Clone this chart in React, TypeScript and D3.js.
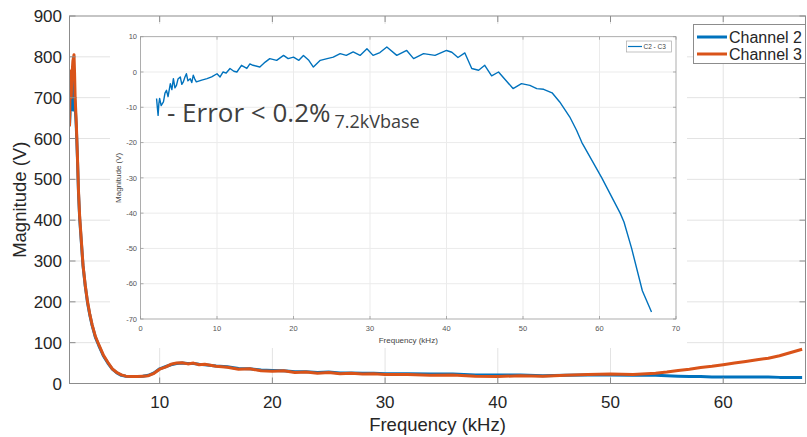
import * as d3 from 'd3';
import { useEffect, useRef } from 'react';

const W = 807;
const H = 437;

// main chart: magnitude of both channels vs frequency (kHz)
const freq = [
  2.0, 2.05, 2.1, 2.15, 2.2, 2.3, 2.4, 2.45, 2.5, 2.6,
  2.7, 2.8, 2.9, 3.0, 3.2, 3.4, 3.6, 3.8, 4.0, 4.3,
  4.6, 5.0, 5.4, 5.8, 6.2, 6.6, 7.0, 7.5, 8.0, 8.5,
  9.0, 9.5, 10, 10.5, 11, 11.5, 12, 12.5, 13, 13.5,
  14, 15, 16, 17, 18, 19, 20, 21, 22, 23,
  24, 25, 26, 27, 28, 29, 30, 32, 34, 36,
  38, 40, 42, 44, 46, 48, 50, 52, 54, 55,
  56, 57, 58, 59, 60, 61, 62, 63, 64, 65,
  66, 67,
];
const channel2 = [
  630, 660, 700, 720, 690, 670, 740, 700, 680, 630,
  555, 465, 405, 365, 288, 238, 198, 168, 143, 113,
  93, 68, 50, 35, 26, 20, 18, 17, 17, 18,
  20, 26, 36, 41, 46, 49, 50, 49, 49, 47,
  46, 43, 41, 37, 36, 33, 32, 31, 29, 29,
  27, 28, 26, 26, 25, 25, 24, 24, 23, 23,
  21, 21, 21, 19, 20, 21, 21, 20, 20, 19,
  18, 17, 17, 16, 16, 16, 16, 16, 16, 15,
  15, 15,
];
const channel3 = [
  630, 720, 765, 700, 745, 790, 805, 760, 700, 640,
  560, 470, 410, 370, 290, 240, 200, 170, 145, 115,
  95, 70, 52, 36, 27, 21, 18, 17, 17, 18,
  19, 25, 35, 40, 47, 50, 51, 48, 50, 46,
  47, 42, 40, 35, 36, 31, 30, 31, 27, 28,
  25, 27, 24, 25, 23, 24, 22, 22, 20, 21,
  18, 17, 19, 18, 20, 22, 23, 22, 25, 28,
  32, 35, 39, 42, 46, 50, 54, 58, 62, 68,
  76, 84,
];
const xTicks = [10, 20, 30, 40, 50, 60];
const yTicks = [0, 100, 200, 300, 400, 500, 600, 700, 800, 900];
const seriesNames = ['Channel 2', 'Channel 3'];

// inset: difference C2 - C3
const insetFreq = [
  2.1, 2.2, 2.3, 2.4, 2.5, 2.7, 3.0, 3.2, 3.4, 3.6,
  3.9, 4.1, 4.3, 4.5, 4.7, 4.9, 5.2, 5.4, 5.6, 5.8,
  6.0, 6.2, 6.5, 6.7, 6.9, 7.1, 7.3, 8.0, 8.7, 9.3,
  10.0, 10.4, 10.8, 11.2, 11.7, 12.2, 12.6, 13.2, 13.9, 14.3,
  14.7, 15.6, 16.3, 16.9, 17.8, 18.7, 19.3, 20.0, 20.7, 21.3,
  22.0, 22.6, 23.5, 24.4, 25.2, 26.1, 26.9, 27.8, 28.7, 29.6,
  30.4, 31.3, 32.2, 33.5, 34.8, 35.7, 37.0, 38.5, 40.0, 40.7,
  41.5, 42.4, 43.3, 44.2, 45.0, 45.9, 46.8, 48.7, 49.8, 50.9,
  51.8, 52.7, 53.8, 54.8, 56.1, 57.0, 57.7, 60.3, 62.7, 63.2,
  64.2, 65.6, 66.8,
];
const insetDiff = [
  -7.5, -10, -12.3, -9, -7.5, -9.5, -8.5, -6, -5.2, -7,
  -3.3, -5, -1.9, -4.5, -3.8, -2, -1.4, -3.5, -2.8, -1.5,
  -0.5, -2.5, -1.9, -3, -0.9, -2, -2.8, -2.3, -1.9, -1.4,
  -0.5, -1.4, 0, -0.3, 1, 0.2, 0, 1.9, 1, 2.3,
  1.9, 1.4, 2.8, 3.8, 3.3, 4.7, 3.8, 4.2, 3.3, 4.7,
  3.3, 1.4, 3.3, 3.8, 4.2, 5.2, 4.7, 5.7, 4.7, 6.6,
  4.7, 5.5, 7.1, 4.7, 6.1, 3.8, 5.2, 4.7, 6.1, 5.6,
  4.1, 5.4, 1.0, 0.5, 1.9, -1.1, 0, -4.7, -3.3, -3.8,
  -4.7, -4.9, -5.9, -8.5, -12.7, -16.5, -20, -30, -40, -42.5,
  -50, -62, -68,
];
const insetXTicks = [0, 10, 20, 30, 40, 50, 60, 70];
const insetYTicks = [-70, -60, -50, -40, -30, -20, -10, 0, 10];

const BLUE = '#0072BD';
const ORANGE = '#D95319';

function App() {
  const ref = useRef<SVGSVGElement>(null);

  useEffect(() => {
    const svg = d3.select(ref.current);
    svg.selectAll('*').remove();

    // ---- main axes
    const x = d3.scaleLinear().domain([2, 67.3]).range([69.5, 805.5]);
    const y = d3.scaleLinear().domain([0, 900]).range([383.5, 16]);
    const [x0, x1] = x.range();
    const [y0, y1] = y.range();

    const main = svg.append('g');

    main.append('defs').append('clipPath').attr('id', 'mainclip')
      .append('rect').attr('x', x0).attr('y', y1).attr('width', x1 - x0).attr('height', y0 - y1);

    main.selectAll('.vgrid').data(xTicks).join('line')
      .attr('x1', d => x(d)).attr('x2', d => x(d)).attr('y1', y0).attr('y2', y1)
      .attr('stroke', '#e3e3e3');
    main.selectAll('.hgrid').data(yTicks.slice(1, -1)).join('line')
      .attr('x1', x0).attr('x2', x1).attr('y1', d => y(d)).attr('y2', d => y(d))
      .attr('stroke', '#e3e3e3');

    const line = d3.line<number>()
      .x((_, i) => x(freq[i]))
      .y(d => y(d));

    main.append('path').datum(channel2)
      .attr('d', line).attr('fill', 'none').attr('stroke', BLUE)
      .attr('stroke-width', 3).attr('stroke-linejoin', 'round')
      .attr('clip-path', 'url(#mainclip)');
    main.append('path').datum(channel3)
      .attr('d', line).attr('fill', 'none').attr('stroke', ORANGE)
      .attr('stroke-width', 3).attr('stroke-linejoin', 'round')
      .attr('clip-path', 'url(#mainclip)');

    main.append('rect')
      .attr('x', x0).attr('y', y1).attr('width', x1 - x0).attr('height', y0 - y1)
      .attr('fill', 'none').attr('stroke', '#8c8c8c').attr('stroke-width', 1);

    // ticks inside the box
    main.selectAll('.xt').data(xTicks).join('path')
      .attr('d', d => `M${x(d)},${y0}v-6M${x(d)},${y1}v6`)
      .attr('stroke', '#8c8c8c');
    main.selectAll('.yt').data(yTicks).join('path')
      .attr('d', d => `M${x0},${y(d)}h6M${x1},${y(d)}h-6`)
      .attr('stroke', '#8c8c8c');

    main.selectAll('.xl').data(xTicks).join('text')
      .attr('x', d => x(d)).attr('y', 408)
      .attr('text-anchor', 'middle')
      .attr('font-family', 'Liberation Sans, Arial, sans-serif')
      .attr('font-size', 17).attr('fill', '#262626')
      .text(d => d);
    main.selectAll('.yl').data(yTicks).join('text')
      .attr('x', 62).attr('y', d => y(d)).attr('dy', '0.36em')
      .attr('text-anchor', 'end')
      .attr('font-family', 'Liberation Sans, Arial, sans-serif')
      .attr('font-size', 17).attr('fill', '#262626')
      .text(d => d);

    main.append('text')
      .attr('x', (x0 + x1) / 2).attr('y', 431)
      .attr('text-anchor', 'middle')
      .attr('font-family', 'Liberation Sans, Arial, sans-serif')
      .attr('font-size', 18.5).attr('fill', '#262626')
      .text('Frequency (kHz)');
    main.append('text')
      .attr('transform', `translate(26,${(y0 + y1) / 2}) rotate(-90)`)
      .attr('text-anchor', 'middle')
      .attr('font-family', 'Liberation Sans, Arial, sans-serif')
      .attr('font-size', 18.5).attr('fill', '#262626')
      .text('Magnitude (V)');

    // ---- legend
    const leg = svg.append('g');
    leg.append('rect')
      .attr('x', 693.5).attr('y', 24.5).attr('width', 112).attr('height', 39)
      .attr('fill', '#fff').attr('stroke', '#8c8c8c');
    [BLUE, ORANGE].forEach((c, i) => {
      const ly = 37 + i * 17;
      leg.append('line').attr('x1', 697).attr('x2', 727).attr('y1', ly).attr('y2', ly)
        .attr('stroke', c).attr('stroke-width', 3);
      leg.append('text').attr('x', 729).attr('y', ly).attr('dy', '0.36em')
        .attr('font-family', 'Liberation Sans, Arial, sans-serif')
        .attr('font-size', 16).attr('fill', '#262626')
        .text(seriesNames[i]);
    });

    // ---- inset
    const ins = svg.append('g');
    ins.append('rect').attr('x', 110).attr('y', 24).attr('width', 577).attr('height', 324)
      .attr('fill', '#fff');

    const ix = d3.scaleLinear().domain([0, 70]).range([140.5, 676]);
    const iy = d3.scaleLinear().domain([-70, 10]).range([319, 36.7]);
    const [ix0, ix1] = ix.range();
    const [iy0, iy1] = iy.range();

    ins.selectAll('.ivg').data(insetXTicks.slice(1, -1)).join('line')
      .attr('x1', d => ix(d)).attr('x2', d => ix(d)).attr('y1', iy0).attr('y2', iy1)
      .attr('stroke', '#ebebeb');
    ins.selectAll('.ihg').data(insetYTicks.slice(1, -1)).join('line')
      .attr('x1', ix0).attr('x2', ix1).attr('y1', d => iy(d)).attr('y2', d => iy(d))
      .attr('stroke', '#ebebeb');

    ins.append('rect')
      .attr('x', ix0).attr('y', iy1).attr('width', ix1 - ix0).attr('height', iy0 - iy1)
      .attr('fill', 'none').attr('stroke', '#9a9a9a').attr('stroke-width', 0.8);
    ins.selectAll('.ixt').data(insetXTicks).join('path')
      .attr('d', d => `M${ix(d)},${iy0}v-3M${ix(d)},${iy1}v3`)
      .attr('stroke', '#9a9a9a').attr('stroke-width', 0.8);
    ins.selectAll('.iyt').data(insetYTicks).join('path')
      .attr('d', d => `M${ix0},${iy(d)}h3M${ix1},${iy(d)}h-3`)
      .attr('stroke', '#9a9a9a').attr('stroke-width', 0.8);

    const iline = d3.line<number>()
      .x((_, i) => ix(insetFreq[i]))
      .y(d => iy(d));
    ins.append('path').datum(insetDiff)
      .attr('d', iline).attr('fill', 'none').attr('stroke', BLUE)
      .attr('stroke-width', 1.4).attr('stroke-linejoin', 'round');

    ins.selectAll('.ixl').data(insetXTicks).join('text')
      .attr('x', d => ix(d)).attr('y', 331)
      .attr('text-anchor', 'middle')
      .attr('font-family', 'Liberation Sans, Arial, sans-serif')
      .attr('font-size', 7.5).attr('fill', '#555')
      .text(d => d);
    ins.selectAll('.iyl').data(insetYTicks).join('text')
      .attr('x', 137).attr('y', d => iy(d)).attr('dy', '0.36em')
      .attr('text-anchor', 'end')
      .attr('font-family', 'Liberation Sans, Arial, sans-serif')
      .attr('font-size', 7.5).attr('fill', '#555')
      .text(d => d);
    ins.append('text')
      .attr('x', (ix0 + ix1) / 2).attr('y', 343)
      .attr('text-anchor', 'middle')
      .attr('font-family', 'Liberation Sans, Arial, sans-serif')
      .attr('font-size', 8).attr('fill', '#444')
      .text('Frequency (kHz)');
    ins.append('text')
      .attr('transform', `translate(121,${(iy0 + iy1) / 2}) rotate(-90)`)
      .attr('text-anchor', 'middle')
      .attr('font-family', 'Liberation Sans, Arial, sans-serif')
      .attr('font-size', 8).attr('fill', '#444')
      .text('Magnitude (V)');

    // inset legend
    ins.append('rect').attr('x', 626.5).attr('y', 41).attr('width', 45).attr('height', 11)
      .attr('fill', '#fff').attr('stroke', '#aaa').attr('stroke-width', 0.7);
    ins.append('line').attr('x1', 628).attr('x2', 642).attr('y1', 46.5).attr('y2', 46.5)
      .attr('stroke', BLUE).attr('stroke-width', 1.2);
    ins.append('text').attr('x', 643.5).attr('y', 46.5).attr('dy', '0.36em')
      .attr('font-family', 'Liberation Sans, Arial, sans-serif')
      .attr('font-size', 6.5).attr('fill', '#444')
      .text('C2 - C3');

    // annotation
    const note = ins.append('text')
      .attr('x', 167).attr('y', 121.7)
      .attr('font-family', 'Open Sans, sans-serif')
      .attr('fill', '#404040');
    note.append('tspan').attr('font-size', 26).text('- Error < 0.2%');
    note.append('tspan').attr('font-size', 18).attr('dx', 4).attr('dy', 6.5).text('7.2kVbase');
  }, []);

  return (
    <svg
      ref={ref}
      width={W}
      height={H}
      style={{ position: 'absolute', left: 0, top: 0, background: '#fff' }}
    />
  );
}

export default App;
